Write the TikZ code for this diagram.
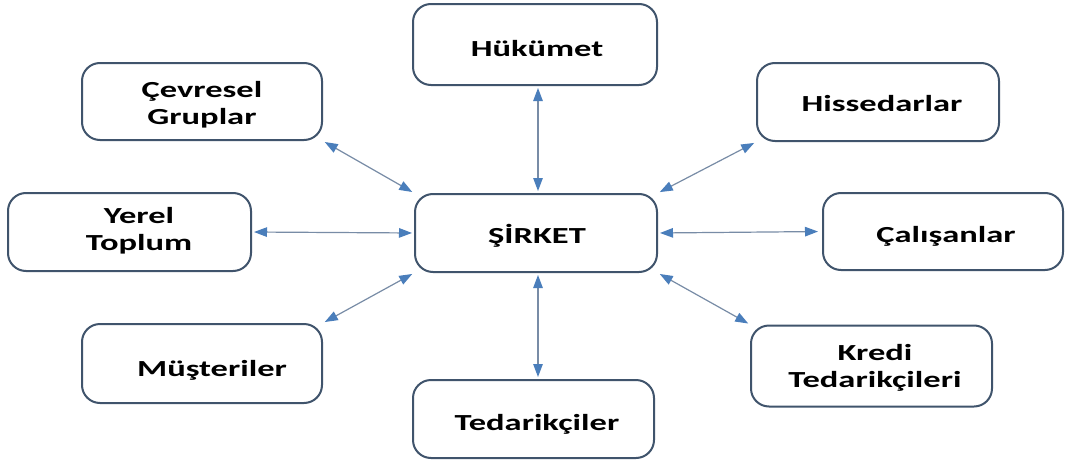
\documentclass[tikz,border=0pt]{standalone}
\usepackage{fontspec}
\newfontfamily\boxfont{Carlito}[FakeStretch=1.5]
\usetikzlibrary{arrows.meta}
\definecolor{boxline}{RGB}{64,84,108}
\definecolor{linkline}{RGB}{120,140,166}
\definecolor{linkhead}{RGB}{74,126,187}
\begin{document}
\begin{tikzpicture}[x=1pt,y=-1pt,
  box/.style={draw=boxline, line width=2pt, rounded corners=18pt, fill=white,
    minimum width=241pt, minimum height=78pt, inner sep=0pt},
  label/.style={font=\boxfont\bfseries\fontsize{23}{27}\selectfont, align=center, inner sep=0pt, text=black},
  link/.style={draw=linkline, line width=1.2pt,
    {Triangle[length=13pt,width=9.5pt,color=linkhead]}-{Triangle[length=13pt,width=9.5pt,color=linkhead]},
    shorten <=2pt, shorten >=2pt}]
\useasboundingbox (0,0) rectangle (1066,463);
\fill[white] (0,0) rectangle (1066,463);

% frames
\node[box, minimum width=244pt, minimum height=81pt] (huk) at (535,44.5) {};
\node[box, minimum width=240pt, minimum height=77pt] (cev) at (202,101.5) {};
\node[box, minimum width=242pt] (his) at (878,102) {};
\node[box, minimum width=243pt] (yer) at (129.5,232) {};
\node[box, minimum width=242pt] (sir) at (536,233) {};
\node[box, minimum width=240pt, minimum height=77pt] (cal) at (943,231.5) {};
\node[box, minimum width=240pt, minimum height=79pt] (mus) at (202,363.5) {};
\node[box, minimum height=81pt] (kre) at (871.5,366) {};
\node[box] (ted) at (533.5,419) {};

% captions
\node[label, anchor=base] (thuk) at (537,56) {Hükümet};
\node[label] (tcev) at (202,105) {Çevresel\\Gruplar};
\node[label, anchor=base] (this) at (882,111.5) {Hissedarlar};
\node[label] (tyer) at (139,231) {Yerel\\Toplum};
\node[label, anchor=base] (tsir) at (537,243) {ŞİRKET};
\node[label, anchor=base] (tcal) at (946,242) {Çalışanlar};
\node[label, anchor=base] (tmus) at (212,376.5) {Müşteriler};
\node[label] (tkre) at (875,368) {Kredi\\Tedarikçileri};
\node[label, anchor=base] (tted) at (537,430) {Tedarikçiler};

% links to the company
\draw[link] ([xshift=3pt]huk.south) -- ([xshift=2pt]sir.north);
\draw[link] (cev.south east) -- (sir.north west);
\draw[link] (his.south west) -- (sir.north east);
\draw[link] (yer.east) -- (sir.west);
\draw[link, shorten <=4pt] (cal.west) -- (sir.east);
\draw[link] (mus.north east) -- (sir.south west);
\draw[link] (kre.north west) -- (sir.south east);
\draw[link] ([xshift=2pt]sir.south) -- ([xshift=4.5pt]ted.north);
\end{tikzpicture}
\end{document}
